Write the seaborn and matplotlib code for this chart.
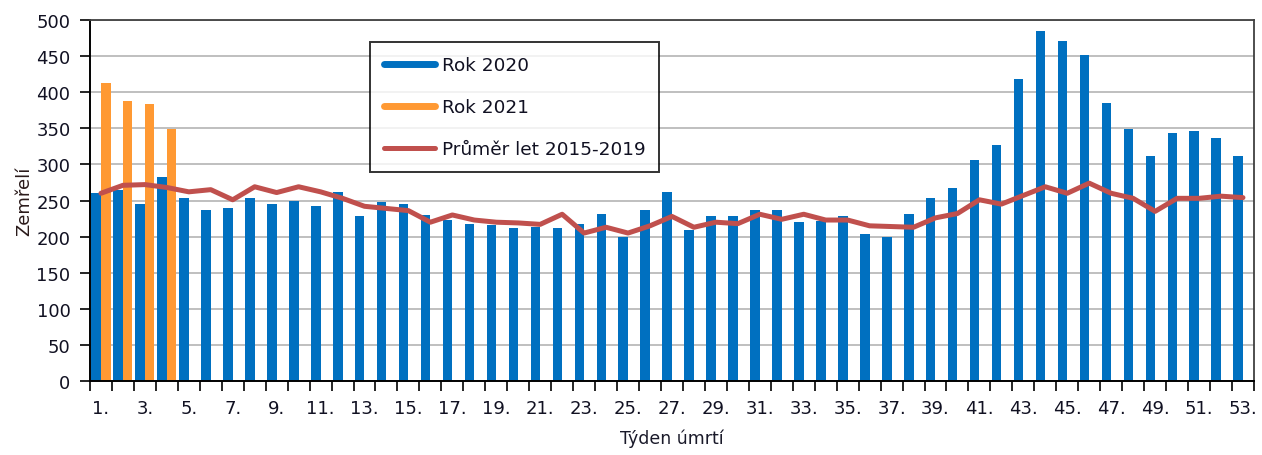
import numpy as np
import pandas as pd
import matplotlib
matplotlib.use("Agg")
import matplotlib.pyplot as plt
from matplotlib.lines import Line2D
import seaborn as sns

weeks = [f"{i}." for i in range(1, 54)]

rok_2020 = [261, 265, 245, 283, 254, 237, 240, 254, 245, 250,
            242, 262, 228, 248, 245, 230, 223, 217, 216, 212,
            213, 212, 217, 231, 199, 237, 262, 209, 228, 228,
            237, 237, 220, 221, 228, 203, 200, 231, 253, 267,
            306, 327, 418, 484, 471, 451, 385, 349, 311, 344,
            346, 336, 311]

rok_2021_weeks = ["1.", "2.", "3.", "4."]
rok_2021 = [412, 387, 384, 349]

prumer = [260, 271, 272, 268, 262, 265, 251, 269, 261, 269,
          262, 253, 242, 239, 236, 220, 230, 223, 220, 219,
          217, 231, 205, 213, 205, 215, 228, 213, 220, 218,
          231, 224, 231, 223, 223, 215, 214, 213, 226, 232,
          251, 245, 257, 269, 260, 274, 260, 253, 235, 253,
          253, 256, 254]

series_names = ["Rok 2020", "Rok 2021", "Průměr let 2015-2019"]
yticks = list(range(0, 501, 50))

C_BLUE = "#0070C0"
C_ORANGE = "#FF9933"
C_RED = "#C0504D"

df = pd.DataFrame({
    "week": weeks + rok_2021_weeks,
    "rok": [series_names[0]] * len(weeks) + [series_names[1]] * len(rok_2021_weeks),
    "value": rok_2020 + rok_2021,
})

sns.set_style("white")
plt.rcParams["font.family"] = ["DejaVu Sans"]

fig = plt.figure(figsize=(12.62, 4.56), dpi=100)
ax = fig.add_axes([0.0713, 0.1616, 0.9223, 0.793])

sns.barplot(data=df, x="week", y="value", hue="rok", order=weeks,
            hue_order=series_names[:2], palette=[C_BLUE, C_ORANGE],
            width=0.87, gap=0, saturation=1, dodge=True, legend=False,
            errorbar=None, linewidth=0, ax=ax)

sns.lineplot(x=np.arange(len(weeks)), y=prumer, color=C_RED, linewidth=3.6,
             ax=ax, legend=False)

ax.set_xlim(-0.5, len(weeks) - 0.5)
ax.set_ylim(0, 500)
ax.set_yticks(yticks)
ax.set_yticklabels([str(v) for v in yticks])
ax.set_xticks(np.arange(0, len(weeks), 2))
ax.set_xticklabels(weeks[::2])
ax.set_xticks(np.arange(-0.5, len(weeks), 1), minor=True)

ax.tick_params(axis="x", which="major", length=0, pad=13, labelsize=13, labelcolor="#111122")
ax.tick_params(axis="x", which="minor", length=7, width=1.2, color="black", direction="out", bottom=True)
ax.tick_params(axis="y", which="major", length=7, width=1.2, color="black", direction="out",
               left=True, pad=7, labelsize=13, labelcolor="#111122")

ax.yaxis.grid(True, color="#BFBFBF", linewidth=1.4)
ax.xaxis.grid(False)
ax.set_axisbelow(True)

for side in ["left", "bottom"]:
    ax.spines[side].set_color("black")
    ax.spines[side].set_linewidth(1.4)
for side in ["top", "right"]:
    ax.spines[side].set_color("#404040")
    ax.spines[side].set_linewidth(1.3)

ax.set_ylabel("Zemřelí", fontsize=13, color="#2a1a1a", labelpad=2)
ax.set_xlabel("Týden úmrtí", fontsize=12.5, color="#1a1a2a", labelpad=8)

handles = [Line2D([], [], color=C_BLUE, linewidth=5),
           Line2D([], [], color=C_ORANGE, linewidth=5),
           Line2D([], [], color=C_RED, linewidth=3.6)]
leg = ax.legend(handles, series_names, loc="upper left", bbox_to_anchor=(0.2405, 0.938),
                frameon=True, fancybox=False, edgecolor="black", fontsize=13.3,
                handlelength=2.8, handletextpad=0.35, labelspacing=1.3,
                borderpad=0.75, borderaxespad=0)
leg.get_frame().set_linewidth(1.4)
for t in leg.get_texts():
    t.set_color("#111122")

fig.savefig("out.png", dpi=100)
